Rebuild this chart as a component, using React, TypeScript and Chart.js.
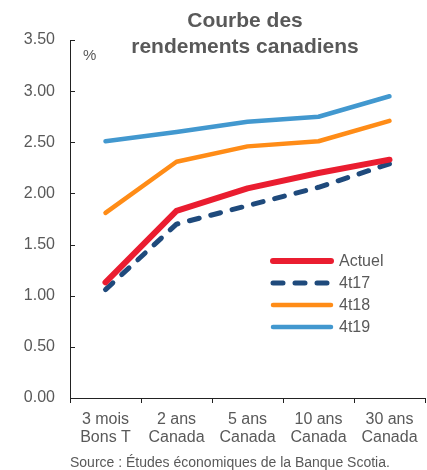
import React, { useEffect, useRef } from "react";
import { Chart, registerables } from "chart.js";

Chart.register(...registerables);

const categories: string[][] = [
  ["3 mois", "Bons T"],
  ["2 ans", "Canada"],
  ["5 ans", "Canada"],
  ["10 ans", "Canada"],
  ["30 ans", "Canada"],
];
const actuel = [1.13, 1.83, 2.05, 2.2, 2.33];
const t417 = [1.06, 1.7, 1.88, 2.06, 2.29];
const t418 = [1.81, 2.31, 2.46, 2.51, 2.71];
const t419 = [2.51, 2.6, 2.7, 2.75, 2.95];
const titleLines = ["Courbe des", "rendements canadiens"];
const sourceText = "Source : Études économiques de la Banque Scotia.";
const unitText = "%";

const FONT = "'Liberation Sans', Arial, sans-serif";
const GREY = "#595959";

const decorPlugin = {
  id: "decor",
  afterDraw(chart: any) {
    const ctx = chart.ctx;
    const ca = chart.chartArea;
    const y = chart.scales.y;
    ctx.save();
    // inward y ticks
    ctx.strokeStyle = "#222";
    ctx.lineWidth = 1;
    y.ticks.forEach((t: any) => {
      const py = Math.round(y.getPixelForValue(t.value)) + 0.5;
      ctx.beginPath();
      ctx.moveTo(ca.left, py);
      ctx.lineTo(ca.left + 5, py);
      ctx.stroke();
    });
    // title
    ctx.fillStyle = GREY;
    ctx.font = `bold 21px ${FONT}`;
    ctx.textAlign = "center";
    ctx.textBaseline = "alphabetic";
    ctx.fillText(titleLines[0], 245, 27);
    ctx.fillText(titleLines[1], 245, 53);
    // unit
    ctx.font = `15px ${FONT}`;
    ctx.textAlign = "left";
    ctx.fillText(unitText, 83, 60);
    // source
    ctx.font = `14px ${FONT}`;
    ctx.fillText(sourceText, 70, 467);
    // legend
    const rows = [261, 283, 305, 327];
    chart.data.datasets.forEach((ds: any, i: number) => {
      const ly = rows[i];
      ctx.beginPath();
      ctx.strokeStyle = ds.borderColor;
      ctx.lineWidth = ds.borderWidth;
      ctx.lineCap = "round";
      ctx.setLineDash(ds.borderDash || []);
      ctx.moveTo(273, ly);
      ctx.lineTo(331, ly);
      ctx.stroke();
      ctx.setLineDash([]);
      ctx.fillStyle = GREY;
      ctx.font = `16px ${FONT}`;
      ctx.textBaseline = "middle";
      ctx.fillText(ds.label, 339, ly + 1);
    });
    ctx.restore();
  },
};

export default function App() {
  const ref = useRef<HTMLCanvasElement>(null);
  useEffect(() => {
    if (!ref.current) return;
    const chart = new Chart(ref.current, {
      type: "line",
      data: {
        labels: categories,
        datasets: [
          { label: "Actuel", data: actuel, borderColor: "#EA1D30", borderWidth: 6, pointRadius: 0, borderCapStyle: "round", borderJoinStyle: "round" },
          { label: "4t17", data: t417, borderColor: "#1F4A7C", borderWidth: 5, borderDash: [10, 12], pointRadius: 0, borderCapStyle: "round", borderJoinStyle: "round" },
          { label: "4t18", data: t418, borderColor: "#FF8C17", borderWidth: 4.5, pointRadius: 0, borderCapStyle: "round", borderJoinStyle: "round" },
          { label: "4t19", data: t419, borderColor: "#4298CF", borderWidth: 4.5, pointRadius: 0, borderCapStyle: "round", borderJoinStyle: "round" },
        ],
      } as any,
      options: {
        animation: false,
        responsive: false,
        devicePixelRatio: 1,
        layout: { padding: { top: 40, right: 2, bottom: 0, left: 0 } },
        plugins: { legend: { display: false }, tooltip: { enabled: false } },
        scales: {
          x: {
            offset: true,
            grid: { display: true, drawOnChartArea: false, drawTicks: true, tickLength: 5, color: "#222", offset: true },
            border: { display: true, color: "#222" },
            ticks: { color: GREY, font: { family: FONT, size: 16, lineHeight: 1.15 }, padding: 7, maxRotation: 0, autoSkip: false },
            afterFit: (s: any) => { s.height = 72; },
          },
          y: {
            min: 0,
            max: 3.5,
            grid: { display: true, drawOnChartArea: false, drawTicks: false },
            border: { display: true, color: "#222" },
            ticks: { stepSize: 0.5, color: GREY, font: { family: FONT, size: 16 }, padding: 15, callback: (v: any) => Number(v).toFixed(2) },
            afterFit: (s: any) => { s.width = 70; },
          },
        },
      } as any,
      plugins: [decorPlugin],
    });
    return () => chart.destroy();
  }, []);
  return (
    <div style={{ position: "absolute", left: 0, top: 0, width: 427, height: 470, background: "#fff" }}>
      <canvas ref={ref} width={427} height={470} />
    </div>
  );
}
